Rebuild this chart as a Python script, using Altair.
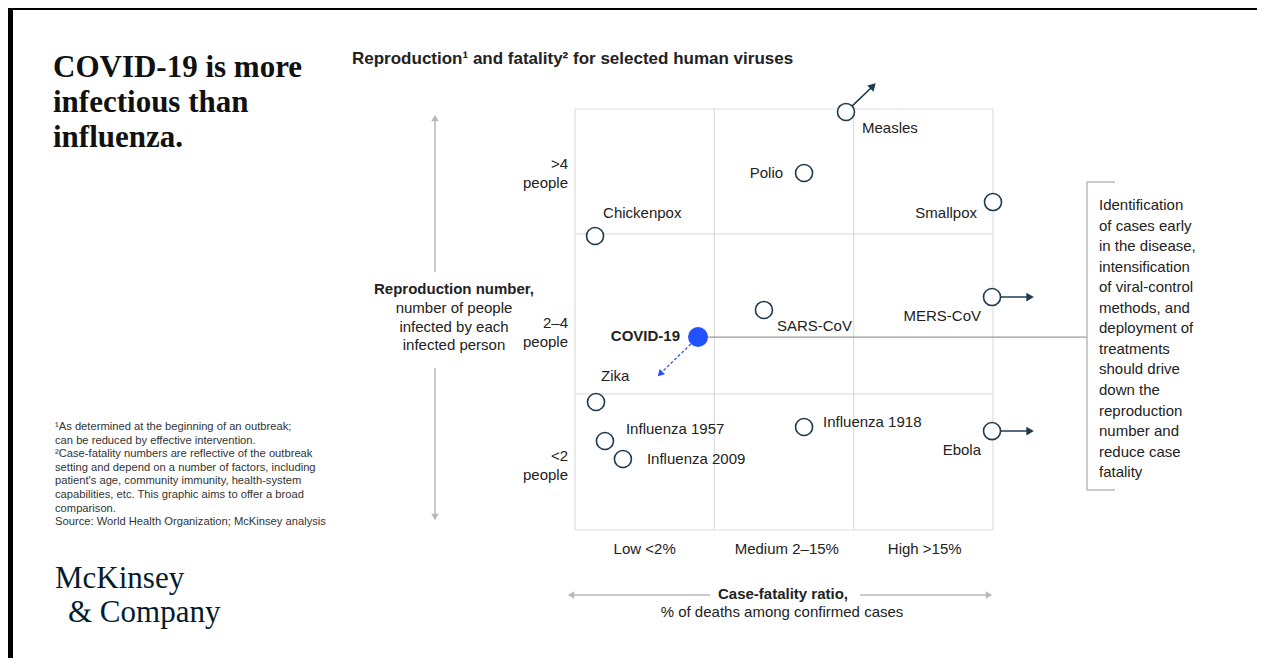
import altair as alt
import pandas as pd

# ---------------- data ----------------
viruses = ["Measles", "Polio", "Smallpox", "Chickenpox", "SARS-CoV", "MERS-CoV",
           "COVID-19", "Zika", "Influenza 1957", "Influenza 2009", "Influenza 1918", "Ebola"]
# position on the case-fatality axis (0-1 low, 1-2 medium, 2-3 high)
fatality = [1.945, 1.644, 3.0, 0.144, 1.356, 2.993, 0.883, 0.151, 0.215, 0.344, 1.644, 2.993]
# position on the reproduction axis (0-0.97 <2, 0.97-2.11 2-4, 2.11-3 >4)
reproduction = [2.979, 2.544, 2.337, 2.095, 1.568, 1.660, 1.375, 0.912, 0.634, 0.506, 0.734, 0.705]
highlight = ["COVID-19"]

fatality_edges = [0, 1, 2, 3]
reproduction_edges = [0, 0.97, 2.11, 3]
fatality_bands = ["Low <2%", "Medium 2–15%", "High >15%"]
fatality_band_pos = [0.5, 1.52, 2.51]
reproduction_bands = [[">4", "people"], ["2–4", "people"], ["<2", "people"]]
reproduction_band_pos = [2.537, 1.404, 0.463]

# off-scale viruses (arrow heads beyond the grid)
arrow_virus = ["Measles", "MERS-CoV", "Ebola"]
arrow_fatality = [2.139, 3.266, 3.266]
arrow_reproduction = [3.164, 1.660, 0.705]

# projected move for COVID-19
covid_target_fatality = [0.61]
covid_target_reproduction = [1.112]

title_lines = ["COVID-19 is more", "infectious than", "influenza."]
subtitle = "Reproduction¹ and fatality² for selected human viruses"
y_title = "Reproduction number,"
y_subtitle = ["number of people", "infected by each", "infected person"]
x_title = "Case-fatality ratio,"
x_subtitle = "% of deaths among confirmed cases"
note_lines = ["Identification", "of cases early", "in the disease,", "intensification",
              "of viral-control", "methods, and", "deployment of", "treatments",
              "should drive", "down the", "reproduction", "number and",
              "reduce case", "fatality"]
footnotes = ["¹As determined at the beginning of an outbreak;",
             "can be reduced by effective intervention.",
             "²Case-fatality numbers are reflective of the outbreak",
             "setting and depend on a number of factors, including",
             "patient's age, community immunity, health-system",
             "capabilities, etc. This graphic aims to offer a broad",
             "comparison.",
             "Source: World Health Organization; McKinsey analysis"]
logo_lines = ["McKinsey", "& Company"]

# ---------------- styles ----------------
W, H = 1249, 650
SANS = "Liberation Sans"
SERIF = "Liberation Serif"
INK = "#222222"
NAVY = "#1e3a4f"
BLUE = "#2251ff"
GRID = "#dedede"
AXISGRAY = "#b8b8b8"
FS = 15

label_style = {
    "Measles": ("left", 16, 16),
    "Polio": ("right", -21, 0),
    "Smallpox": ("right", -16, 11),
    "Chickenpox": ("left", 8, -23),
    "SARS-CoV": ("left", 13, 16),
    "MERS-CoV": ("right", -11, 19),
    "COVID-19": ("right", -18, -1),
    "Zika": ("left", 5, -26),
    "Influenza 1957": ("left", 21, -12),
    "Influenza 2009": ("left", 24, 0),
    "Influenza 1918": ("left", 19, -5),
    "Ebola": ("right", -11, 19),
}
arrow_angle = {"Measles": 45, "MERS-CoV": 90, "Ebola": 90}

xscale = alt.Scale(domain=[0, 3], range=[567, 985], nice=False, zero=False)
yscale = alt.Scale(domain=[0, 3], range=[522, 101], nice=False, zero=False)


def X(f):
    return alt.X(f, type="quantitative", scale=xscale, axis=None)


def Y(f):
    return alt.Y(f, type="quantitative", scale=yscale, axis=None)


one = pd.DataFrame({"k": [0]})
layers = []

# frame (black border of the picture)
for x0, x1, y0, y1 in [(0, W, 0, 2), (0, 5, 0, H)]:
    layers.append(alt.Chart(one).mark_rect(color="black").encode(
        x=alt.value(x0), x2=alt.value(x1), y=alt.value(y0), y2=alt.value(y1)))

# grid
vgrid = pd.DataFrame({"x": fatality_edges, "y0": 0, "y1": 3})
hgrid = pd.DataFrame({"y": reproduction_edges, "x0": 0, "x1": 3})
layers.append(alt.Chart(vgrid).mark_rule(color=GRID, strokeWidth=1.2).encode(
    x=X("x"), y=Y("y0"), y2=alt.Y2("y1")))
layers.append(alt.Chart(hgrid).mark_rule(color=GRID, strokeWidth=1.2).encode(
    y=Y("y"), x=X("x0"), x2=alt.X2("x1")))

df = pd.DataFrame({"virus": viruses, "fatality": fatality, "reproduction": reproduction})
df["hl"] = df["virus"].isin(highlight)
covid = df[df["hl"]].copy()
others = df[~df["hl"]].copy()

# connector from COVID-19 to the note bracket
layers.append(alt.Chart(covid).mark_rule(color="#9a9a9a", strokeWidth=1.2).encode(
    x=X("fatality"), x2=alt.value(1079), y=Y("reproduction")))

# bracket
layers.append(alt.Chart(one).mark_rule(color="#a8a8a8", strokeWidth=1.2).encode(
    x=alt.value(1079), y=alt.value(174), y2=alt.value(482)))
for yy in (174, 482):
    layers.append(alt.Chart(one).mark_rule(color="#a8a8a8", strokeWidth=1.2).encode(
        x=alt.value(1079), x2=alt.value(1107), y=alt.value(yy)))

# arrows for off-scale viruses
arr = pd.DataFrame({"virus": arrow_virus, "tx": arrow_fatality, "ty": arrow_reproduction})
arr = arr.merge(df, on="virus")
layers.append(alt.Chart(arr).mark_rule(color=NAVY, strokeWidth=1.6).encode(
    x=X("fatality"), y=Y("reproduction"), x2=alt.X2("tx"), y2=alt.Y2("ty")))
for v, ang in arrow_angle.items():
    layers.append(alt.Chart(arr[arr["virus"] == v]).mark_point(
        shape="triangle-up", filled=True, color=NAVY, opacity=1, size=75, angle=ang
    ).encode(x=X("tx"), y=Y("ty")))

# COVID-19 projected movement (dashed)
cv = covid.copy()
cv["tx"] = covid_target_fatality
cv["ty"] = covid_target_reproduction
layers.append(alt.Chart(cv).mark_rule(color=BLUE, strokeWidth=1.2, strokeDash=[3, 2]).encode(
    x=X("fatality"), y=Y("reproduction"), x2=alt.X2("tx"), y2=alt.Y2("ty")))
layers.append(alt.Chart(cv).mark_point(
    shape="triangle-up", filled=True, color=BLUE, opacity=1, size=55, angle=225
).encode(x=X("tx"), y=Y("ty")))

# circles
layers.append(alt.Chart(others).mark_point(
    shape="circle", filled=True, fill="white", stroke=NAVY, strokeWidth=1.6, size=290, opacity=1
).encode(x=X("fatality"), y=Y("reproduction")))
layers.append(alt.Chart(covid).mark_point(
    shape="circle", filled=True, color=BLUE, size=400, opacity=1
).encode(x=X("fatality"), y=Y("reproduction")))

# point labels
for v, (al, dx, dy) in label_style.items():
    bold = v in highlight
    layers.append(alt.Chart(df[df["virus"] == v]).mark_text(
        align=al, baseline="middle", dx=dx, dy=dy, font=SANS, fontSize=FS,
        fontWeight="bold" if bold else "normal", color=INK
    ).encode(x=X("fatality"), y=Y("reproduction"), text="virus:N"))

# column labels
cols = pd.DataFrame({"band": fatality_bands, "pos": fatality_band_pos})
layers.append(alt.Chart(cols).mark_text(
    align="center", baseline="middle", font=SANS, fontSize=FS, color=INK
).encode(x=X("pos"), y=alt.value(541), text="band:N"))

# row labels (two lines, block centred on the position)
for lab, pos in zip(reproduction_bands, reproduction_band_pos):
    layers.append(alt.Chart(pd.DataFrame({"pos": [pos]})).mark_text(
        align="right", baseline="middle", font=SANS, fontSize=FS, color=INK, lineHeight=19, dy=-9.5
    ).encode(x=alt.value(560), y=Y("pos"), text=alt.value(lab)))

# y axis arrows
layers.append(alt.Chart(one).mark_rule(color=AXISGRAY, strokeWidth=1.5).encode(
    x=alt.value(427), y=alt.value(112), y2=alt.value(264)))
layers.append(alt.Chart(one).mark_rule(color=AXISGRAY, strokeWidth=1.5).encode(
    x=alt.value(427), y=alt.value(360), y2=alt.value(507)))
layers.append(alt.Chart(one).mark_point(shape="triangle-up", filled=True, color=AXISGRAY,
                                        opacity=1, size=55).encode(x=alt.value(427), y=alt.value(110)))
layers.append(alt.Chart(one).mark_point(shape="triangle-down", filled=True, color=AXISGRAY,
                                        opacity=1, size=55).encode(x=alt.value(427), y=alt.value(509)))

# x axis arrows
layers.append(alt.Chart(one).mark_rule(color=AXISGRAY, strokeWidth=1.5).encode(
    y=alt.value(587), x=alt.value(565), x2=alt.value(702)))
layers.append(alt.Chart(one).mark_rule(color=AXISGRAY, strokeWidth=1.5).encode(
    y=alt.value(587), x=alt.value(852), x2=alt.value(978)))
layers.append(alt.Chart(one).mark_point(shape="triangle-left", filled=True, color=AXISGRAY,
                                        opacity=1, size=55).encode(x=alt.value(563), y=alt.value(587)))
layers.append(alt.Chart(one).mark_point(shape="triangle-right", filled=True, color=AXISGRAY,
                                        opacity=1, size=55).encode(x=alt.value(981), y=alt.value(587)))


def text_layer(txt, x, y, align="left", size=FS, weight="normal", font=SANS, color=INK,
               lh=None, baseline="middle"):
    kw = dict(align=align, baseline=baseline, font=font, fontSize=size, fontWeight=weight, color=color)
    if lh is not None:
        kw["lineHeight"] = lh
    return alt.Chart(one).mark_text(**kw).encode(
        x=alt.value(x), y=alt.value(y), text=alt.value(txt))


# titles (multi-line: y is the first line)
layers.append(text_layer(title_lines, 45, 60, size=31, weight="bold", font=SERIF, color="#111111", lh=35))
layers.append(text_layer(subtitle, 344, 51, size=17, weight="bold", color="#222222"))

# axis titles
layers.append(text_layer(y_title, 446, 281, align="center", weight="bold"))
layers.append(text_layer(y_subtitle, 446, 300, align="center", lh=18.5))
layers.append(text_layer(x_title, 775, 586, align="center", weight="bold"))
layers.append(text_layer(x_subtitle, 774, 604, align="center"))

# note
layers.append(text_layer(note_lines, 1091, 197, size=15, lh=20.55))

# footnotes
layers.append(text_layer(footnotes, 47, 419, size=11.2, lh=13.6, color="#333333"))

# logo
layers.append(text_layer(logo_lines[0], 47, 580, size=31, font=SERIF, color="#051c2c", baseline="alphabetic"))
layers.append(text_layer(logo_lines[1], 60, 614, size=31, font=SERIF, color="#051c2c", baseline="alphabetic"))

chart = alt.layer(*layers).properties(
    width=W, height=H, padding=0, autosize=alt.AutoSizeParams(type="none")
).configure_view(stroke=None).configure(background="white")

chart.save("out.html", embed_options={"renderer": "svg", "actions": False})
